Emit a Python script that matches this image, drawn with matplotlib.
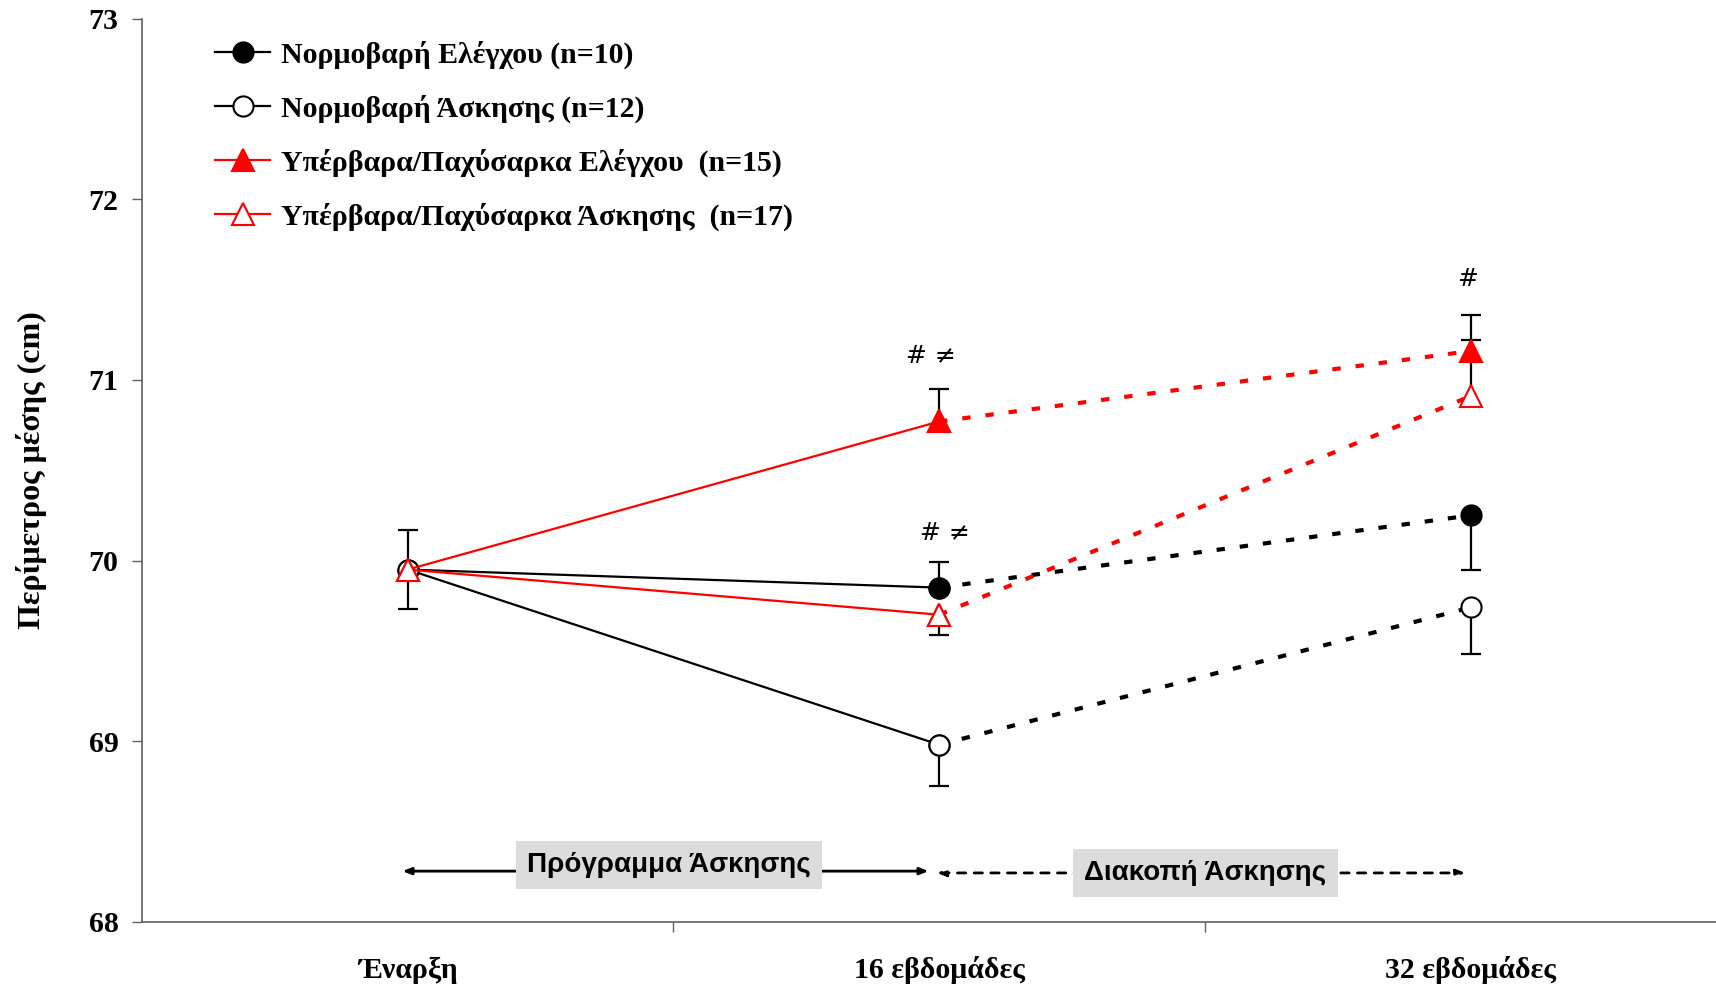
import matplotlib
matplotlib.use("Agg")
import matplotlib.pyplot as plt
import numpy as np

# time points
time_labels = ['Έναρξη', '16 εβδομάδες', '32 εβδομάδες']

# waist circumference means (cm)
normo_control = [69.95, 69.85, 70.25]
normo_exercise = [69.95, 68.98, 69.74]
obese_control = [69.95, 70.77, 71.16]
obese_exercise = [69.95, 69.70, 70.91]

# one-sided error bars: (lower, upper)
normo_control_err = ([0.0, 0.0, 0.30], [0.22, 0.14, 0.0])
normo_exercise_err = ([0.22, 0.23, 0.26], [0.0, 0.0, 0.0])
obese_control_err = ([0.0, 0.0, 0.0], [0.0, 0.18, 0.20])
obese_exercise_err = ([0.0, 0.11, 0.0], [0.0, 0.0, 0.31])

labels = ['Νορμοβαρή Ελέγχου (n=10)',
          'Νορμοβαρή Άσκησης (n=12)',
          'Υπέρβαρα/Παχύσαρκα Ελέγχου  (n=15)',
          'Υπέρβαρα/Παχύσαρκα Άσκησης  (n=17)']

serif = ['Liberation Serif', 'DejaVu Serif']

fig = plt.figure(figsize=(17.16, 9.9), dpi=100)
ax = fig.add_axes([0.0828, 0.069, 0.929, 0.912])

x = np.arange(len(time_labels))

series = [
    (normo_control, normo_control_err, 'black', 'o', 'black', 14.5),
    (normo_exercise, normo_exercise_err, 'black', 'o', 'white', 14.5),
    (obese_control, obese_control_err, 'red', '^', 'red', 15.5),
    (obese_exercise, obese_exercise_err, 'red', '^', 'white', 15.5),
]

for (vals, err, col, mk, face, ms), lab in zip(series, labels):
    vals = np.array(vals)
    lo, hi = np.array(err[0]), np.array(err[1])
    # upward bars, keep only the upper cap
    m = hi > 0
    if m.any():
        _, caps, _ = ax.errorbar(x[m], vals[m], yerr=[np.zeros(m.sum()), hi[m]],
                                 fmt='none', ecolor='black', elinewidth=1.6,
                                 capsize=7, capthick=1.6, zorder=2)
        caps[0].set_visible(False)
    # downward bars, keep only the lower cap
    m = lo > 0
    if m.any():
        _, caps, _ = ax.errorbar(x[m], vals[m], yerr=[lo[m], np.zeros(m.sum())],
                                 fmt='none', ecolor='black', elinewidth=1.6,
                                 capsize=7, capthick=1.6, zorder=2)
        caps[1].set_visible(False)
    ax.plot(x[:2], vals[:2], color=col, lw=1.6, marker=mk, markersize=ms,
            markerfacecolor=face, markeredgecolor=col, markeredgewidth=1.5,
            label=lab, zorder=4)
    ax.plot(x[1:], vals[1:], color=col, lw=3, dashes=(2, 3.6), marker=mk,
            markersize=ms, markerfacecolor=face, markeredgecolor=col,
            markeredgewidth=1.5, zorder=3)

# significance marks
ax.text(0.985, 71.13, '# ≠', fontsize=18, ha='center', va='center')
ax.text(1.01, 70.15, '# ≠', fontsize=18, ha='center', va='center')
ax.text(1.995, 71.56, '#', fontsize=18, ha='center', va='center')

# period arrows
ax.annotate('', xy=(0.98, 68.28), xytext=(-0.01, 68.28),
            arrowprops=dict(arrowstyle='<|-|>,head_length=0.5,head_width=0.2',
                            color='black', lw=2, shrinkA=0, shrinkB=0))
ax.annotate('', xy=(1.99, 68.27), xytext=(0.996, 68.27),
            arrowprops=dict(arrowstyle='<|-|>,head_length=0.5,head_width=0.2',
                            color='black', lw=2, linestyle=(0, (3, 3)),
                            shrinkA=0, shrinkB=0))
box_font = ['Liberation Sans', 'DejaVu Sans']
ax.text(0.491, 68.315, 'Πρόγραμμα Άσκησης', family=box_font, fontweight='bold',
        fontsize=20, ha='center', va='center',
        bbox=dict(facecolor='#dcdcdc', edgecolor='none', pad=8))
ax.text(1.501, 68.27, 'Διακοπή Άσκησης', family=box_font, fontweight='bold',
        fontsize=20, ha='center', va='center',
        bbox=dict(facecolor='#dcdcdc', edgecolor='none', pad=8))

ax.set_xlim(-0.5, 2.5)
ax.set_ylim(68, 73)
ax.set_yticks(range(68, 74))
ax.set_xticks(x)
ax.set_xticklabels(time_labels)
ax.set_xticks([0.5, 1.5], minor=True)
ax.tick_params(axis='x', which='major', length=0, pad=25)
ax.tick_params(axis='x', which='minor', length=7, width=1, color='#606060')
ax.tick_params(axis='y', length=7, width=1, color='#606060', pad=10)
for t in ax.get_xticklabels() + ax.get_yticklabels():
    t.set_family(serif)
    t.set_fontweight('bold')
    t.set_fontsize(21.5)

for s in ['top', 'right']:
    ax.spines[s].set_visible(False)
for s in ['left', 'bottom']:
    ax.spines[s].set_color('#606060')
    ax.spines[s].set_linewidth(1.2)

ax.set_ylabel('Περίμετρος μέσης (cm)', family=serif, fontweight='bold',
              fontsize=23, labelpad=30)

leg = ax.legend(loc='upper left', bbox_to_anchor=(0.029, 1.006), frameon=False,
                prop={'family': serif, 'weight': 'bold', 'size': 21.5},
                handlelength=1.84, handletextpad=0.37, labelspacing=0.86)

fig.savefig('out.png', dpi=100)
